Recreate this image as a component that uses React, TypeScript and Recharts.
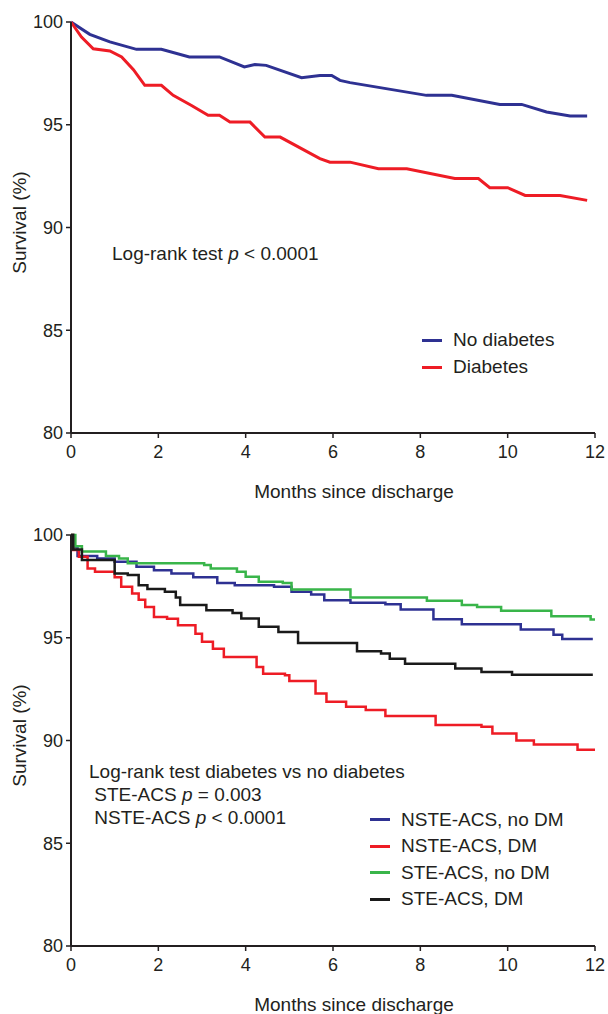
import { LineChart, Line, XAxis, YAxis, Legend } from 'recharts'

const FONT = '"Liberation Sans", Arial, sans-serif'
const INK = '#231f20'
const BLUE = '#2e3192'
const RED = '#ee1c25'
const GREEN = '#39b54a'
const BLACK = '#1a1a1a'

const X_TICKS = [0, 2, 4, 6, 8, 10, 12]
const Y_TICKS = [80, 85, 90, 95, 100]

// top panel: [month, survival %]
const noDiabetes = [
  [0, 100], [0.43, 99.4], [0.89, 99.03], [1.5, 98.67], [2.07, 98.67], [2.71, 98.3],
  [3.4, 98.3], [3.97, 97.81], [4.21, 97.93], [4.47, 97.89], [5.28, 97.29], [5.7, 97.4],
  [5.97, 97.4], [6.16, 97.16], [6.39, 97.05], [8.14, 96.43], [8.72, 96.43], [9.82, 95.99],
  [10.32, 95.99], [10.89, 95.62], [11.43, 95.43], [11.82, 95.43],
]
const diabetes = [
  [0, 100], [0.24, 99.27], [0.51, 98.7], [0.89, 98.59], [1.16, 98.3], [1.43, 97.68],
  [1.69, 96.92], [2.07, 96.92], [2.34, 96.43], [2.76, 95.94], [3.14, 95.46], [3.4, 95.46],
  [3.64, 95.13], [4.1, 95.13], [4.44, 94.4], [4.79, 94.4], [5.7, 93.35], [5.93, 93.18],
  [6.39, 93.18], [7.04, 92.86], [7.69, 92.86], [8.79, 92.38], [9.33, 92.38], [9.59, 91.94],
  [10.0, 91.94], [10.4, 91.56], [11.2, 91.56], [11.82, 91.32],
]

// bottom panel: step points [month of drop, survival % after drop]
const nsteNoDm = [
  [0, 100], [0.05, 99.4], [0.15, 98.98], [0.6, 98.86], [1.0, 98.7], [1.5, 98.46],
  [1.9, 98.29], [2.3, 98.13], [2.8, 97.94], [3.35, 97.67], [3.75, 97.56], [4.65, 97.48],
  [5.05, 97.24], [5.5, 97.1], [5.8, 96.83], [6.4, 96.7], [7.2, 96.63], [7.55, 96.37],
  [8.3, 95.9], [8.95, 95.66], [10.3, 95.4], [11.05, 95.15], [11.25, 94.94], [11.95, 94.94],
]
const nsteDm = [
  [0, 100], [0.05, 99.27], [0.18, 98.94], [0.38, 98.37], [0.55, 98.21], [1.0, 97.94],
  [1.15, 97.48], [1.4, 97.15], [1.55, 96.85], [1.7, 96.5], [1.9, 96.01], [2.2, 95.93],
  [2.45, 95.61], [2.85, 95.2], [3.0, 94.8], [3.25, 94.47], [3.5, 94.06], [4.25, 93.58],
  [4.4, 93.25], [4.9, 93.17], [5.0, 92.89], [5.6, 92.29], [5.85, 91.88], [6.3, 91.64],
  [6.75, 91.48], [7.2, 91.19], [8.35, 90.75], [9.4, 90.67], [9.65, 90.34], [10.2, 90.0],
  [10.6, 89.8], [11.6, 89.55], [12, 89.55],
]
const steNoDm = [
  [0, 100], [0.1, 99.45], [0.25, 99.2], [0.8, 98.98], [1.1, 98.86], [1.3, 98.62],
  [3.05, 98.54], [3.2, 98.37], [3.8, 98.21], [4.0, 97.97], [4.3, 97.72], [4.85, 97.67],
  [5.05, 97.35], [6.4, 96.96], [8.15, 96.8], [8.95, 96.59], [9.3, 96.5], [9.85, 96.31],
  [11.0, 96.05], [11.9, 95.89], [12, 95.89],
]
const steDm = [
  [0, 100], [0.05, 99.3], [0.25, 98.78], [1.0, 98.13], [1.3, 98.05], [1.55, 97.56],
  [1.75, 97.37], [2.15, 97.24], [2.4, 96.96], [2.5, 96.59], [3.1, 96.34], [3.7, 96.21],
  [3.9, 95.94], [4.3, 95.53], [4.75, 95.28], [5.2, 94.75], [6.55, 94.34], [7.1, 94.23],
  [7.3, 93.98], [7.65, 93.74], [8.8, 93.5], [9.4, 93.33], [10.1, 93.2], [11.95, 93.2],
]

const toRows = (pts: number[][]) => pts.map(([m, s]) => ({ m, s }))

type Series = { name: string; color: string; pts: number[][] }

const topSeries: Series[] = [
  { name: 'No diabetes', color: BLUE, pts: noDiabetes },
  { name: 'Diabetes', color: RED, pts: diabetes },
]
const bottomSeries: Series[] = [
  { name: 'NSTE-ACS, no DM', color: BLUE, pts: nsteNoDm },
  { name: 'NSTE-ACS, DM', color: RED, pts: nsteDm },
  { name: 'STE-ACS, no DM', color: GREEN, pts: steNoDm },
  { name: 'STE-ACS, DM', color: BLACK, pts: steDm },
]

const textStyle = { fontFamily: FONT, fontSize: 19, color: INK }

function LegendBox({ series, rowH }: { series: Series[]; rowH: number }) {
  return (
    <div style={textStyle}>
      {series.map((s) => (
        <div key={s.name} style={{ display: 'flex', alignItems: 'center', height: rowH }}>
          <span style={{ width: 20, height: 3, background: s.color, marginRight: 11 }} />
          <span>{s.name}</span>
        </div>
      ))}
    </div>
  )
}

const xLabel = (props: any) => {
  const vb = props.viewBox
  return (
    <text x={vb.x + vb.width / 2 + 21} y={vb.y + 65} textAnchor="middle" fontFamily={FONT} fontSize={19} fill={INK}>
      Months since discharge
    </text>
  )
}

const yLabel = (props: any) => {
  const vb = props.viewBox
  const cy = vb.y + vb.height / 2 - 5
  return (
    <text
      x={19}
      y={cy}
      transform={`rotate(-90, 19, ${cy})`}
      textAnchor="middle"
      dominantBaseline="central"
      fontFamily={FONT}
      fontSize={19}
      fill={INK}
    >
      Survival (%)
    </text>
  )
}

function Panel({
  series,
  step,
  width,
  legendLeft,
  legendTop,
  rowH,
}: {
  series: Series[]
  step: boolean
  width: number
  legendLeft: number
  legendTop: number
  rowH: number
}) {
  return (
    <LineChart width={608} height={510} margin={{ top: 22, right: 13, left: 0, bottom: 10 }}>
      <XAxis
        dataKey="m"
        type="number"
        domain={[0, 12]}
        ticks={X_TICKS}
        allowDuplicatedCategory={false}
        axisLine={{ stroke: INK, strokeWidth: 2 }}
        tickLine={{ stroke: INK, strokeWidth: 1.5 }}
        tickSize={5}
        tickMargin={7}
        tick={{ fontSize: 18, fill: INK, fontFamily: FONT }}
        height={67}
        label={{ content: xLabel }}
      />
      <YAxis
        type="number"
        domain={[80, 100]}
        ticks={Y_TICKS}
        axisLine={{ stroke: INK, strokeWidth: 2 }}
        tickLine={{ stroke: INK, strokeWidth: 1.5 }}
        tickSize={5}
        tickMargin={3}
        tick={{ fontSize: 18, fill: INK, fontFamily: FONT }}
        width={71}
        label={{ content: yLabel }}
      />
      <Legend
        layout="vertical"
        align="center"
        verticalAlign="middle"
        wrapperStyle={{ left: legendLeft, top: legendTop, width: 220 }}
        content={() => <LegendBox series={series} rowH={rowH} />}
      />
      {series.map((s) => (
        <Line
          key={s.name}
          name={s.name}
          data={toRows(s.pts)}
          dataKey="s"
          type={step ? 'stepAfter' : 'linear'}
          stroke={s.color}
          strokeWidth={width}
          dot={false}
          activeDot={false}
          isAnimationActive={false}
        />
      ))}
    </LineChart>
  )
}

export default function App() {
  return (
    <div style={{ position: 'absolute', left: 0, top: 0, width: 608, height: 1014, background: '#fff', overflow: 'hidden' }}>
      <div style={{ position: 'absolute', left: 0, top: 0 }}>
        <Panel series={topSeries} step={false} width={3} legendLeft={422} legendTop={326.5} rowH={27} />
      </div>
      <div style={{ position: 'absolute', left: 0, top: 513 }}>
        <Panel series={bottomSeries} step={true} width={2.5} legendLeft={370} legendTop={293.5} rowH={26.5} />
      </div>
      <div style={{ ...textStyle, position: 'absolute', left: 112, top: 242, lineHeight: '24px' }}>
        Log-rank test <i>p</i> &lt; 0.0001
      </div>
      <div style={{ ...textStyle, position: 'absolute', left: 89, top: 760, lineHeight: '23px', whiteSpace: 'pre' }}>
        <div>Log-rank test diabetes vs no diabetes</div>
        <div> STE-ACS <i>p</i> = 0.003</div>
        <div> NSTE-ACS <i>p</i> &lt; 0.0001</div>
      </div>
    </div>
  )
}
